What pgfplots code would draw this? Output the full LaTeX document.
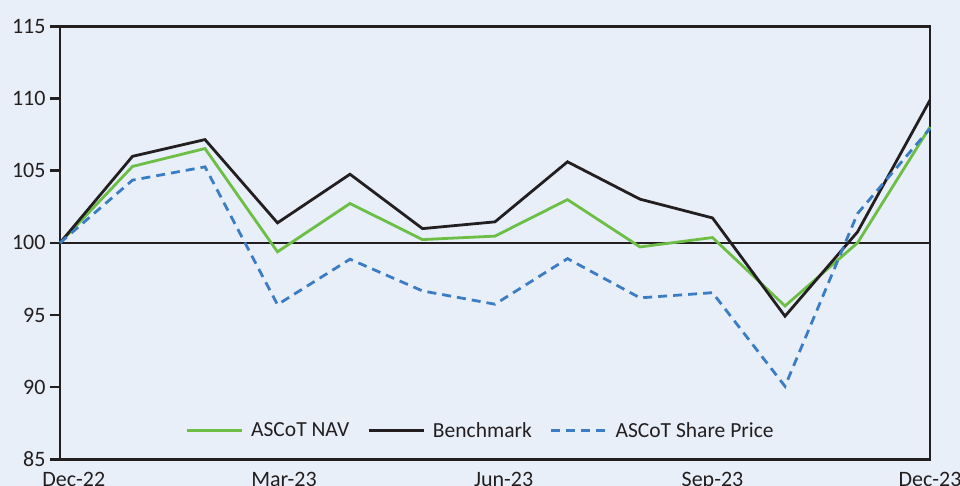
\documentclass[border=0pt]{standalone}
\usepackage{pgfplots}
\pgfplotsset{compat=1.18}
\usepackage{fontspec}
\setmainfont{Carlito}
\definecolor{bg}{HTML}{E9EFF9}
\definecolor{navgreen}{HTML}{6CBE45}
\definecolor{spblue}{HTML}{3A7DC4}
\definecolor{ink}{HTML}{231F20}
\begin{document}
\begin{tikzpicture}[x=1pt,y=1pt]
\fill[bg] (-60,-26.7) rectangle (900,459.3);
\useasboundingbox (-60,-26.7) rectangle (900,459.3);
\begin{axis}[
  at={(0,0)}, anchor=south west,
  scale only axis, width=870pt, height=432.8pt,
  xmin=0, xmax=12, ymin=85, ymax=115,
  ytick={85,90,...,115},
  ytick pos=left,
  xtick={0.19,3.09,6.12,9,12},
  xticklabels={Dec-22,Mar-23,Jun-23,Sep-23,Dec-23},
  major x tick style={draw=none},
  y tick style={line width=2.6pt, color=ink},
  tick align=outside, major tick length=10pt,
  axis line style={line width=2.6pt, color=ink},
  ticklabel style={font=\fontsize{22}{26}\selectfont, text=ink},
  yticklabel style={xshift=-1pt},
  /pgf/number format/assume math mode=true,
  xticklabel style={yshift=1pt},
  clip=false,
  legend style={draw=none, fill=none, at={(axis cs:5.8,87.0)}, anchor=center,
    font=\fontsize{21.5}{26}\selectfont, text=ink, column sep=6pt,
    /tikz/every even column/.append style={column sep=16pt}},
  legend columns=3,
  legend image code/.code={\draw[#1] (0pt,0pt) -- (55pt,0pt);},
]
\addplot[forget plot, ink, line width=1.3pt] coordinates {(0,100) (12,100)};
\addplot[navgreen, line width=2.8pt, line join=miter] coordinates {
(0,100) (1,105.3) (2,106.54) (3,99.38) (4,102.73) (5,100.23) (6,100.47)
(7,103.0) (8,99.72) (9,100.37) (10,95.63) (11,100.0) (12,108.04)};
\addlegendentry{ASCoT NAV}
\addplot[ink, line width=2.8pt, line join=miter] coordinates {
(0,100) (1,106.0) (2,107.16) (3,101.39) (4,104.76) (5,100.99) (6,101.46)
(7,105.62) (8,103.03) (9,101.73) (10,94.92) (11,100.76) (12,109.9)};
\addlegendentry{Benchmark}
\addplot[spblue, line width=2.8pt, dash pattern=on 9pt off 6pt] coordinates {
(0,100) (1,104.35) (2,105.27) (3,95.72) (4,98.87) (5,96.67) (6,95.75)
(7,98.91) (8,96.19) (9,96.55) (10,90.06) (11,102.03) (12,107.93)};
\addlegendentry{ASCoT Share Price}
\end{axis}
\end{tikzpicture}
\end{document}
